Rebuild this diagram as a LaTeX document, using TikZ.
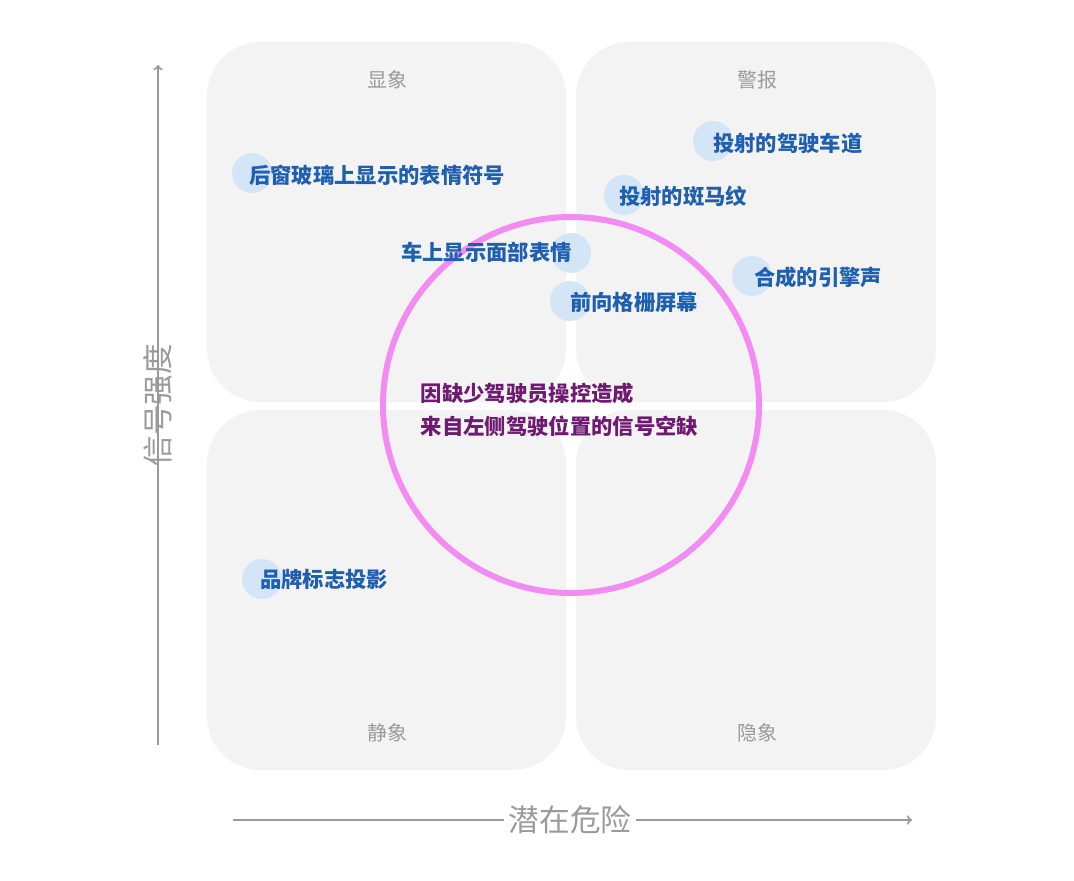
\documentclass[tikz,border=0pt]{standalone}
\usepackage{fontspec}
\setmainfont{Noto Sans CJK SC}
\usepackage{tikz}
\definecolor{boxgray}{HTML}{F3F3F3}
\definecolor{labgray}{HTML}{9A9A9A}
\definecolor{itemblue}{HTML}{1F5FAF}
\definecolor{dotblue}{HTML}{D5E5F8}
\definecolor{ringpink}{HTML}{F28CF2}
\definecolor{gappurple}{HTML}{6E1A70}
\tikzset{
  quad/.style={fill=boxgray, rounded corners=40},
  quadlabel/.style={text=labgray, font=\fontsize{15}{18}\selectfont},
  axislabel/.style={text=labgray, font=\fontsize{23}{27}\selectfont},
  axisline/.style={labgray, line width=1.5pt},
  dot/.style={circle, fill=dotblue, minimum size=30pt, inner sep=0pt},
  item/.style={text=itemblue, font=\bfseries\fontsize{16}{19}\selectfont, inner sep=0pt},
}
\begin{document}
\begin{tikzpicture}[x=0.75pt,y=-0.75pt]
        \useasboundingbox (0,0) rectangle (1074,881);
        % Draw the quadrants
        \fill[quad] (207,42) rectangle (566,402);
        \fill[quad] (576,42) rectangle (936,402);
        \fill[quad] (207,410) rectangle (566,770);
        \fill[quad] (576,410) rectangle (936,770);
        \node[quadlabel] (show) at (387,80) {显象};
        \node[quadlabel] (alarm) at (757,80) {警报};
        \node[quadlabel] (still) at (387,733) {静象};
        \node[quadlabel] (hidden) at (757,733) {隐象};

        % Axes
        \node[axislabel, rotate=90] (strength) at (158,405) {信号强度};
        \coordinate (ybot) at (158,745);
        \coordinate (ytop) at (158,65);
        \draw[axisline] (ybot) -- (strength.east);
        \draw[axisline, ->] (strength.west) -- (ytop);
        \node[axislabel] (danger) at (570,820) {潜在危险};
        \coordinate (xleft) at (233,820);
        \coordinate (xright) at (912,820);
        \draw[axisline] (xleft) -- (danger.west);
        \draw[axisline, ->] (danger.east) -- (xright);

        % Dots
        \node[dot] (d1) at (252,173) {};
        \node[dot] (d2) at (713,141) {};
        \node[dot] (d3) at (624,195) {};
        \node[dot] (d4) at (571,253) {};
        \node[dot] (d5) at (752,276) {};
        \node[dot] (d6) at (570,301) {};
        \node[dot] (d7) at (262,579) {};

        % The gap circle
        \node[circle, draw=ringpink, line width=4.5pt, minimum size=282pt] (ring) at (571,405) {};

        % Items
        \node[item, anchor=west] (emoji) at (249,175) {后窗玻璃上显示的表情符号};
        \node[item, anchor=west] (lane) at (713,143) {投射的驾驶车道};
        \node[item, anchor=west] (zebra) at (619,196) {投射的斑马纹};
        \node[item, anchor=east] (face) at (572,252) {车上显示面部表情};
        \node[item, anchor=west] (engine) at (754,277) {合成的引擎声};
        \node[item, anchor=west] (grille) at (570,302) {前向格栅屏幕};
        \node[item, anchor=west] (logo) at (260,579) {品牌标志投影};

        % Gap text
        \node[text=gappurple, font=\bfseries\fontsize{16}{25}\selectfont, align=left, anchor=west] (gap) at (416,410) {因缺少驾驶员操控造成\\来自左侧驾驶位置的信号空缺};
    \end{tikzpicture}
\end{document}
